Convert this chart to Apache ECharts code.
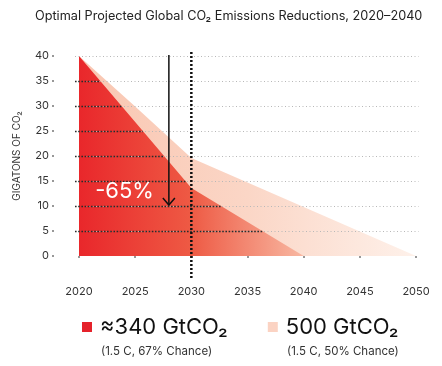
<!DOCTYPE html>
<html><head><meta charset="utf-8">
<script src="https://cdn.jsdelivr.net/npm/echarts@6/dist/echarts.min.js"></script>
<style>html,body{margin:0;padding:0;background:#fff}#c{width:442px;height:366px}</style>
</head><body><div id="c"></div>
<script>
// ---- data ----
const titleText = 'Optimal Projected Global CO₂ Emissions Reductions, 2020–2040';
const yAxisName = 'GIGATONS OF CO₂';
const years = [2020, 2025, 2030, 2035, 2040, 2045, 2050];
const yTicks = [0, 5, 10, 15, 20, 25, 30, 35, 40];
const redYears = [2020, 2030, 2040];
const redValues = [40, 13.6, 0];
const lightYears = [2020, 2025, 2030, 2050];
const lightValues = [40, 29.9, 19.6, 0];
const legendNames = ['≈340 GtCO₂', '500 GtCO₂'];
const legendNotes = ['(1.5 C, 67% Chance)', '(1.5 C, 50% Chance)'];
const arrowYear = 2028, arrowFrom = 40.2, arrowTo = 10.2;
const markYear = 2030, markTop = 40.8, markBottom = -4.4;
const pctLabel = '-65%', pctYear = 2024.05, pctValue = 13;

// ---- chart ----
const FONT = 'Inter, "Noto Sans", sans-serif';
const xMin = 2019.644, xMax = 2050.22;
const gridVals = yTicks.filter(v => v > 0);

function crossYear(v) {
  if (v >= Math.max(...redValues)) return null;
  for (let i = 0; i < redValues.length - 1; i++) {
    const a = redValues[i], b = redValues[i + 1];
    if (v <= a && v >= b) {
      return redYears[i] + (a - v) / (a - b) * (redYears[i + 1] - redYears[i]);
    }
  }
  return null;
}

const chart = echarts.init(document.getElementById('c'), null, {renderer: 'canvas'});
chart.setOption({
  animation: false,
  backgroundColor: '#fff',
  textStyle: {fontFamily: FONT},
  title: {
    text: titleText, left: 30, top: 5,
    textStyle: {fontSize: 12.7, fontWeight: 'normal', color: '#222', fontFamily: FONT}
  },
  grid: {left: 75, right: 23.5, top: 56, bottom: 110},
  xAxis: {
    type: 'value', min: xMin, max: xMax, offset: 18,
    axisLine: {show: false},
    splitLine: {show: false},
    axisTick: {show: true, customValues: years, length: 2, lineStyle: {color: '#777', width: 1.5}},
    axisLabel: {customValues: years, color: '#333', fontSize: 11, margin: 12, fontFamily: FONT,
      formatter: v => String(Math.round(v))}
  },
  yAxis: {
    type: 'value', min: 0, max: 40, interval: 5, offset: 21,
    name: yAxisName, nameLocation: 'middle', nameRotate: 90, nameGap: 32,
    nameTextStyle: {fontSize: 10, color: '#333', fontFamily: FONT},
    axisLine: {show: false},
    splitLine: {show: false},
    axisTick: {show: true, length: 2, lineStyle: {color: '#777', width: 1.5}},
    axisLabel: {color: '#333', fontSize: 11, margin: 5, fontFamily: FONT}
  },
  legend: {
    data: [legendNames[0], legendNames[1]],
    left: 82, top: 316, itemGap: 40, padding: 0,
    icon: 'rect', itemWidth: 10, itemHeight: 10,
    selectedMode: false,
    textStyle: {fontSize: 22, color: '#111', fontFamily: FONT, padding: [0, 0, 0, 3]}
  },
  graphic: [
    {type: 'text', left: 101, top: 346, style: {text: legendNotes[0], fill: '#333', font: '11.5px ' + FONT}},
    {type: 'text', left: 287, top: 346, style: {text: legendNotes[1], fill: '#333', font: '11.5px ' + FONT}}
  ],
  series: [
    {
      name: legendNames[1], type: 'line', z: 1,
      data: lightYears.map((y, i) => [y, lightValues[i]]),
      symbol: 'none', lineStyle: {width: 0},
      itemStyle: {color: '#fbd3c3'},
      areaStyle: {opacity: 1, color: new echarts.graphic.LinearGradient(0, 0, 1, 0, [
        {offset: 0, color: '#f9c6b1'}, {offset: 0.5, color: '#fbd6c6'}, {offset: 1, color: '#fef1ea'}
      ])}
    },
    {
      name: legendNames[0], type: 'line', z: 2,
      data: redYears.map((y, i) => [y, redValues[i]]),
      symbol: 'none', lineStyle: {width: 0},
      itemStyle: {color: '#e5222b'},
      areaStyle: {opacity: 1, color: new echarts.graphic.LinearGradient(0, 0, 1, 0, [
        {offset: 0, color: '#e9272b'}, {offset: 0.5, color: '#ee5a44'}, {offset: 1, color: '#f8b8a2'}
      ])}
    },
    {
      type: 'custom', z: 3, silent: true,
      data: gridVals.map(v => [xMin, v]),
      renderItem: (params, api) => {
        const v = gridVals[params.dataIndex];
        const p0 = api.coord([xMin, v]), p1 = api.coord([xMax, v]);
        const y = Math.round(p0[1]) + 0.5;
        const kids = [{type: 'line', shape: {x1: p0[0], y1: y, x2: p1[0], y2: y},
          style: {stroke: '#b8b8b8', lineWidth: 1, lineDash: [1, 2.5]}}];
        const xc = crossYear(v);
        if (xc !== null) {
          const pc = api.coord([xc, v]);
          kids.push({type: 'line', shape: {x1: p0[0], y1: y, x2: pc[0], y2: y},
            style: {stroke: '#2a2a2a', lineWidth: 1.6, lineDash: [1.6, 1.6]}});
        }
        return {type: 'group', children: kids};
      }
    },
    {
      type: 'custom', z: 4, silent: true, clip: false,
      data: [[markYear, 0]],
      renderItem: (params, api) => {
        const t = api.coord([markYear, markTop]), b = api.coord([markYear, markBottom]);
        const a0 = api.coord([arrowYear, arrowFrom]), a1 = api.coord([arrowYear, arrowTo]);
        const lp = api.coord([pctYear, pctValue]);
        return {type: 'group', children: [
          {type: 'line', shape: {x1: t[0], y1: t[1], x2: b[0], y2: b[1]},
            style: {stroke: '#111', lineWidth: 2.5, lineDash: [2, 2]}},
          {type: 'line', shape: {x1: a0[0], y1: a0[1], x2: a1[0], y2: a1[1]},
            style: {stroke: '#111', lineWidth: 1.5}},
          {type: 'polyline', shape: {points: [[a1[0] - 6, a1[1] - 7], [a1[0], a1[1]], [a1[0] + 6, a1[1] - 7]]},
            style: {stroke: '#111', lineWidth: 1.5, fill: null}},
          {type: 'text', x: lp[0], y: lp[1],
            style: {text: pctLabel, fill: '#fff', font: '22px ' + FONT, align: 'center', verticalAlign: 'middle'}}
        ]};
      }
    }
  ]
});
</script></body></html>
